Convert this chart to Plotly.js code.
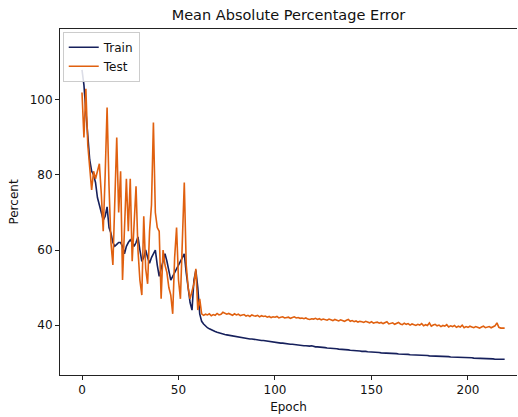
<!DOCTYPE html>
<html>
<head>
<meta charset="utf-8">
<script src="https://cdn.plot.ly/plotly-3.0.1.min.js"></script>
<style>html,body{margin:0;padding:0;background:#fff;}#chart{width:518px;height:417px;}</style>
</head>
<body>
<div id="chart"></div>
<script>
// Train MAPE per epoch (epoch = index, 0..219)
const trainMape = [
  108, 104, 97, 89, 84, 81, 80, 78, 74, 72,
  70, 68, 69, 71.5, 66, 64.5, 62, 61, 61.5, 62,
  62, 61, 59, 61, 62, 62.7, 62, 61, 62, 63.5,
  60, 57, 58, 60, 58, 56.5, 58, 59, 60, 56,
  53, 55, 57, 59, 57, 54, 52, 53, 54, 55,
  56, 57, 58, 59, 54, 50, 46, 44, 52, 54.6,
  50, 43, 41,
  40.3, 39.7, 39.3, 39.0, 38.7, 38.5, 38.3, 38.1, 37.9, 37.8,
  37.6, 37.5, 37.4, 37.3, 37.2, 37.0, 36.9, 36.9, 36.8, 36.7,
  36.6, 36.6, 36.5, 36.4, 36.3, 36.3, 36.2, 36.1, 36.1, 36.0,
  35.9, 35.9, 35.8, 35.7, 35.6, 35.6, 35.5, 35.4, 35.4, 35.3,
  35.2, 35.2, 35.1, 35.0, 35.0, 34.9, 34.9, 34.8, 34.7, 34.7,
  34.6, 34.6, 34.5, 34.5, 34.4, 34.4, 34.5, 34.3, 34.2, 34.2,
  34.1, 34.1, 34.0, 34.0, 33.9, 33.9, 33.8, 33.8, 33.7, 33.7,
  33.6, 33.6, 33.5, 33.5, 33.4, 33.4, 33.3, 33.3, 33.2, 33.2,
  33.1, 33.1, 33.0, 33.1, 33.0, 32.9, 32.9, 32.8, 32.8, 32.8,
  32.7, 32.7, 32.6, 32.6, 32.6, 32.5, 32.5, 32.5, 32.4, 32.4,
  32.4, 32.3, 32.3, 32.3, 32.2, 32.2, 32.2, 32.1, 32.1, 32.1,
  32.0, 32.0, 32.0, 31.9, 31.9, 31.9, 31.9, 31.8, 31.8, 31.8,
  31.7, 31.7, 31.7, 31.7, 31.6, 31.6, 31.6, 31.6, 31.5, 31.5,
  31.5, 31.5, 31.4, 31.4, 31.4, 31.4, 31.3, 31.3, 31.3, 31.3,
  31.2, 31.2, 31.2, 31.1, 31.1, 31.1, 31.1, 31.0, 31.0, 31.0,
  31.0, 30.9, 30.9, 30.9, 30.9, 30.8, 30.9
];

// Test MAPE per epoch
const testMape = [
  102, 90, 103, 88, 82, 76, 81, 79, 81, 83,
  75, 65, 80, 98, 77, 62, 56, 72, 90, 70,
  81, 52, 66, 79, 65, 79, 57, 68, 77, 60,
  52, 48, 69, 55, 51, 65, 72, 94, 70, 66,
  65, 47, 60, 56, 54, 50, 48, 43, 58, 66,
  52, 47, 60, 78, 56, 50, 47, 49, 51, 55,
  44, 47, 43,
  42.6, 42.9, 42.7, 43.0, 42.5, 42.8, 42.6, 43.1, 42.7, 42.9,
  43.4, 43.2, 42.9, 43.1, 42.8, 42.6, 43.0, 42.7, 42.9, 42.5,
  42.7, 42.8, 42.4, 42.6, 42.3, 42.7, 42.5, 42.4, 42.6, 42.2,
  42.5, 42.3, 42.4, 42.1, 42.3, 42.0, 42.2, 42.1, 42.3, 41.9,
  42.1, 42.2, 41.9, 42.0, 42.1, 41.8, 42.0, 42.2, 41.9, 42.0,
  41.8, 41.9, 41.7, 41.9, 41.6, 41.5, 41.7, 41.6, 41.8, 41.5,
  41.7, 41.4, 41.6, 41.5, 41.3, 41.6, 41.4, 41.2, 41.5, 41.3,
  41.1, 41.4, 41.2, 41.0, 41.3, 41.5, 41.0, 41.2, 40.9, 41.1,
  40.8, 41.0, 40.9, 40.7, 41.0, 40.8, 40.6, 40.9, 40.5, 40.7,
  40.8, 40.5, 40.7, 40.4, 40.6, 40.9, 40.3, 40.5, 40.6, 40.2,
  40.4, 40.7, 40.3, 40.1, 40.5, 40.2, 40.4, 40.0, 40.3, 40.1,
  39.9, 40.2, 40.0, 40.4, 39.8, 40.1, 39.9, 40.6, 39.7, 40.0,
  40.2, 39.8, 40.0, 39.6, 39.9, 39.7, 40.1, 39.5, 39.8, 39.6,
  39.9, 39.4, 39.7, 39.5, 40.0, 39.3, 39.6, 39.4, 39.7, 39.5,
  39.3, 39.6, 39.4, 39.2, 39.5, 39.7, 39.3, 39.4, 39.6, 39.3,
  39.5, 39.8, 40.6, 39.4, 39.2, 39.3, 39.2
];

const xTicks = [0, 50, 100, 150, 200];
const yTicks = [40, 60, 80, 100];

const font = "DejaVu Sans, sans-serif";

const traces = [
  {y: trainMape, type: "scatter", mode: "lines", name: "Train",
   line: {color: "#16205c", width: 1.6}},
  {y: testMape, type: "scatter", mode: "lines", name: "Test",
   line: {color: "#e0600f", width: 1.6}}
];

const layout = {
  width: 518, height: 417,
  margin: {l: 60, r: 1, t: 29, b: 42},
  paper_bgcolor: "#fff", plot_bgcolor: "#fff",
  font: {family: font, size: 12, color: "#111"},
  title: {text: "Mean Absolute Percentage Error", font: {family: font, size: 14.5, color: "#111"},
          x: 0.5, xref: "paper", xanchor: "center", y: 0.965, yanchor: "middle"},
  showlegend: true,
  legend: {x: 0.006, y: 0.992, xanchor: "left", yanchor: "top",
           bgcolor: "rgba(255,255,255,0.85)", bordercolor: "#cccccc", borderwidth: 1,
           font: {family: font, size: 12, color: "#111"}, tracegroupgap: 0},
  xaxis: {range: [-11.4, 225.4], tickvals: xTicks, ticktext: xTicks.map(String),
          showgrid: false, zeroline: false, showline: true, linecolor: "#222", linewidth: 1,
          mirror: true, ticks: "outside", ticklen: 4, tickcolor: "#222",
          tickfont: {family: font, size: 12, color: "#111"},
          title: {text: "Epoch", font: {family: font, size: 12, color: "#111"}, standoff: 6}},
  yaxis: {range: [26.7, 118.9], tickvals: yTicks, ticktext: yTicks.map(String),
          showgrid: false, zeroline: false, showline: true, linecolor: "#222", linewidth: 1,
          mirror: false, ticks: "outside", ticklen: 4, tickcolor: "#222",
          tickfont: {family: font, size: 12, color: "#111"},
          title: {text: "Percent", font: {family: font, size: 12, color: "#111"}, standoff: 8}}
};

Plotly.newPlot("chart", traces, layout, {displayModeBar: false, staticPlot: true});
</script>
</body>
</html>
